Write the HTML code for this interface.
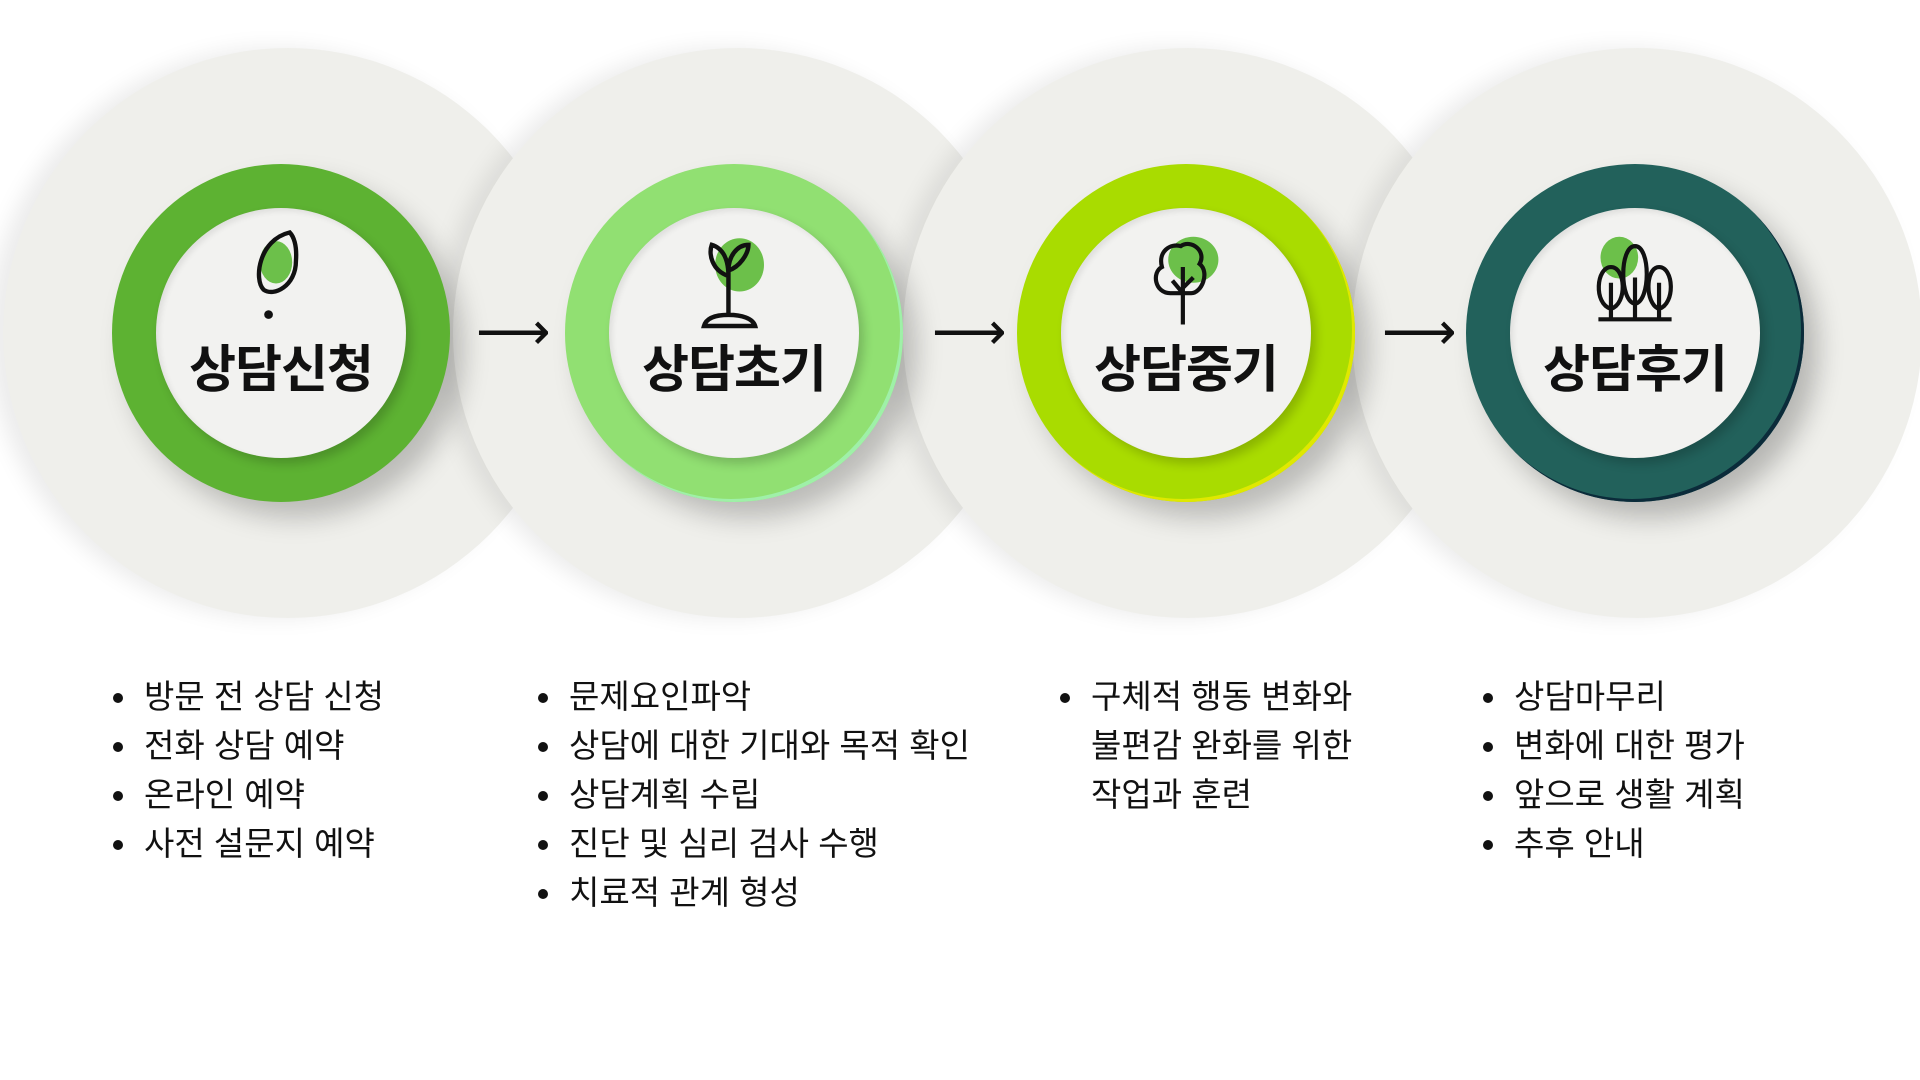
<!DOCTYPE html>
<html><head><meta charset="utf-8"><style>
body{margin:0;width:1920px;height:1080px;background:#fff;position:relative;overflow:hidden;font-family:"Liberation Sans","Noto Sans CJK KR",sans-serif;}
.bg{position:absolute;width:570px;height:570px;border-radius:50%;background:#efefeb;top:48px;box-shadow:-14px 0 22px rgba(0,0,0,0.08);}
.ring{position:absolute;width:338px;height:338px;border-radius:50%;top:164px;box-shadow:14px 16px 26px rgba(0,0,0,0.22);}
.inner{position:absolute;left:44px;top:44px;width:250px;height:250px;border-radius:50%;background:#f2f2f0;box-shadow:inset 3px 3px 6px rgba(0,0,0,0.08),5px 6px 10px rgba(0,0,0,0.18);}
.title{position:absolute;left:0;width:250px;top:120px;text-align:center;font-weight:bold;font-size:51px;color:#111;letter-spacing:-1px;}
.icon{position:absolute;left:75px;top:12px;}
.arrow{position:absolute;top:302px;font-size:52px;color:#111;}
ul{position:absolute;margin:0;padding:0 0 0 26px;font-size:33px;line-height:49px;color:#111;top:672px;}
li{padding-left:4px;}
</style></head><body>
<div class="bg" style="left:3px"></div>
<div class="bg" style="left:453px"></div>
<div class="bg" style="left:903px"></div>
<div class="bg" style="left:1352px"></div>

<div class="ring" style="left:112px;background:#5db232"><div class="inner">
<svg class="icon" width="100" height="112" viewBox="0 0 80 90"><ellipse cx="36" cy="34" rx="13" ry="17" fill="#6cc04a"/><path d="M47 10 C22 16 18 48 26 56 C34 62 52 53 52 33 C53 20 50 13 47 10Z" fill="none" stroke="#111" stroke-width="3.5"/><circle cx="30" cy="76" r="3.5" fill="#111"/></svg>
<div class="title">상담신청</div></div></div>

<div class="ring" style="left:565px;background:#91e072;box-shadow:-3px -3px 0 #9ff0a8 inset,14px 16px 26px rgba(0,0,0,0.22)"><div class="inner">
<svg class="icon" width="100" height="112" viewBox="0 0 90 100"><ellipse cx="50" cy="40" rx="22" ry="24" fill="#6cc04a"/><path d="M40 40 V85 M40 50 C25 45 22 30 25 22 C35 25 40 35 40 50 M40 45 C50 42 58 30 58 22 C48 22 40 32 40 45 M18 95 C20 88 28 85 40 85 C52 85 62 88 64 95 Z" fill="none" stroke="#111" stroke-width="4"/></svg>
<div class="title">상담초기</div></div></div>

<div class="ring" style="left:1017px;background:#a9dc00;box-shadow:-3px -3px 0 #e0e800 inset,14px 16px 26px rgba(0,0,0,0.22)"><div class="inner">
<svg class="icon" width="100" height="115" viewBox="0 0 90 110"><ellipse cx="52" cy="38" rx="24" ry="22" fill="#6cc04a"/><path d="M42 100 V45 M42 70 L32 58 M42 65 L52 55 M30 70 C15 70 12 50 22 45 C18 30 30 22 40 25 C50 18 65 30 58 42 C68 50 60 70 50 70 Z" fill="none" stroke="#111" stroke-width="4"/></svg>
<div class="title">상담중기</div></div></div>

<div class="ring" style="left:1466px;background:#22615b;box-shadow:inset -3px -3px 0 #0b2b3a,14px 16px 26px rgba(0,0,0,0.24)"><div class="inner">
<svg class="icon" width="100" height="115" viewBox="0 0 90 110"><ellipse cx="30" cy="36" rx="18" ry="20" fill="#6cc04a"/><g fill="none" stroke="#111" stroke-width="4"><path d="M22 95 V60 M45 95 V55 M68 95 V60 M10 95 H80"/><path d="M22 85 C5 80 8 45 22 45 C36 45 38 80 22 85Z"/><path d="M45 80 C30 78 30 25 45 25 C60 25 60 78 45 80Z"/><path d="M68 85 C54 80 55 45 68 45 C82 45 84 80 68 85Z"/></g></svg>
<div class="title">상담후기</div></div></div>

<div class="arrow" style="left:476px">⟶</div>
<div class="arrow" style="left:932px">⟶</div>
<div class="arrow" style="left:1382px">⟶</div>

<ul style="left:114px"><li>방문 전 상담 신청</li><li>전화 상담 예약</li><li>온라인 예약</li><li>사전 설문지 예약</li></ul>
<ul style="left:539px"><li>문제요인파악</li><li>상담에 대한 기대와 목적 확인</li><li>상담계획 수립</li><li>진단 및 심리 검사 수행</li><li>치료적 관계 형성</li></ul>
<ul style="left:1061px"><li>구체적 행동 변화와<br>불편감 완화를 위한<br>작업과 훈련</li></ul>
<ul style="left:1484px"><li>상담마무리</li><li>변화에 대한 평가</li><li>앞으로 생활 계획</li><li>추후 안내</li></ul>
</body></html>
